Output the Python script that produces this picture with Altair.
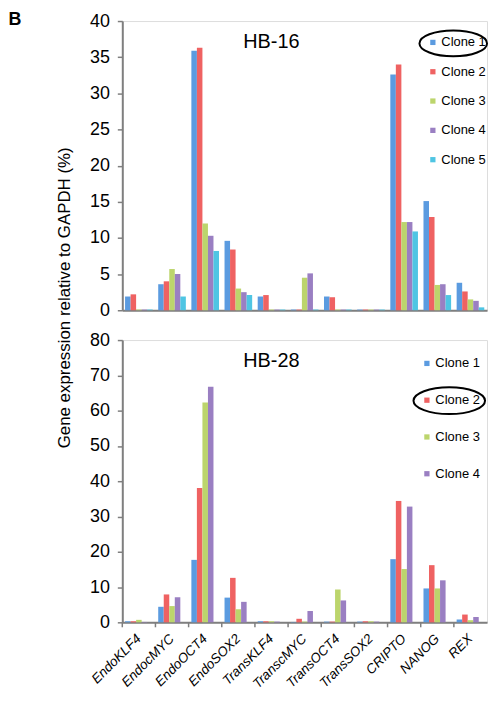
import altair as alt
import pandas as pd

genes = ["EndoKLF4", "EndocMYC", "EndoOCT4", "EndoSOX2", "TransKLF4", "TranscMYC",
         "TransOCT4", "TransSOX2", "CRIPTO", "NANOG", "REX"]
clones_hb16 = ["Clone 1", "Clone 2", "Clone 3", "Clone 4", "Clone 5"]
clones_hb28 = ["Clone 1", "Clone 2", "Clone 3", "Clone 4"]

hb16_c1 = [1.9, 3.6, 35.9, 9.6, 1.9, 0.1, 1.9, 0.1, 32.6, 15.1, 3.8]
hb16_c2 = [2.2, 4.0, 36.3, 8.4, 2.1, 0.1, 1.8, 0.1, 34.0, 12.9, 2.6]
hb16_c3 = [0.1, 5.7, 12.0, 3.0, 0.1, 4.5, 0.1, 0.1, 12.2, 3.5, 1.5]
hb16_c4 = [0.1, 5.0, 10.3, 2.5, 0.1, 5.1, 0.1, 0.1, 12.2, 3.6, 1.3]
hb16_c5 = [0.1, 1.9, 8.2, 2.1, 0.1, 0.1, 0.1, 0.1, 10.9, 2.1, 0.4]

hb28_c1 = [0.3, 4.4, 17.7, 7.0, 0.3, 0.1, 0.2, 0.2, 17.9, 9.6, 0.8]
hb28_c2 = [0.3, 7.9, 38.1, 12.6, 0.3, 1.0, 0.2, 0.3, 34.4, 16.2, 2.2]
hb28_c3 = [0.7, 4.6, 62.3, 3.7, 0.3, 0.2, 9.3, 0.3, 15.1, 9.6, 0.6]
hb28_c4 = [0.1, 7.1, 66.8, 5.8, 0.2, 3.2, 6.2, 0.2, 32.8, 11.9, 1.5]

panel_names = ["HB-16", "HB-28"]
panel_letter = ["B"]
y_title = "Gene expression relative to GAPDH (%)"
circled = ["Clone 1", "Clone 2"]
clone_colors = ["#5b9be0", "#ef6262", "#bcd56c", "#9a7fc2", "#4fc5e3"]

FONT = "Liberation Sans"
W = 367
AXIS_GRAY = "#7f7f7f"


def to_long(series, clones):
    rows = []
    for clone, vals in zip(clones, series):
        for g, v in zip(genes, vals):
            rows.append({"gene": g, "clone": clone, "value": v})
    return pd.DataFrame(rows)


def ellipse_path(k):
    c = 0.5523
    return (f"M -1 0 C -1 {-k*c:.4f} {-c} {-k} 0 {-k} C {c} {-k} 1 {-k*c:.4f} 1 0 "
            f"C 1 {k*c:.4f} {c} {k} 0 {k} C {-c} {k} -1 {k*c:.4f} -1 0 Z")


def panel(df, clones, ymax, ystep, height, name, leg_x, leg_y, row_pad,
          ell_x, ell_y, ell_w, ell_h, circ, bottom, top):
    x_scale = alt.Scale(domain=genes, paddingInner=0, paddingOuter=0)
    if bottom:
        x_axis = alt.Axis(title=None, ticks=False, labelAngle=315, labelAlign="right",
                          labelBaseline="middle", labelFontStyle="italic", labelFontSize=13.5,
                          labelFont=FONT, labelColor="black", labelPadding=14,
                          domainColor=AXIS_GRAY, domainWidth=2)
    else:
        x_axis = alt.Axis(title=None, ticks=False, labels=False,
                          domainColor=AXIS_GRAY, domainWidth=2)
    y_axis_kw = dict(values=list(range(0, ymax + 1, ystep)), grid=False, tickSize=5,
                     tickColor=AXIS_GRAY, tickWidth=1.5, domainColor=AXIS_GRAY,
                     domainWidth=2, labelFontSize=18, labelFont=FONT, labelColor="black",
                     labelPadding=8)
    if top:
        y_axis = alt.Axis(title=y_title, titleFont=FONT, titleFontSize=17,
                          titleFontWeight="normal", titleAngle=270, titleBaseline="middle",
                          titleAlign="center", titleX=-58, titleY=278, **y_axis_kw)
    else:
        y_axis = alt.Axis(title=None, **y_axis_kw)

    n = len(clones)
    bars = alt.Chart(df).mark_bar().encode(
        x=alt.X("gene:N", sort=genes, scale=x_scale, axis=x_axis),
        xOffset=alt.XOffset("clone:N", sort=clones,
                            scale=alt.Scale(domain=clones, paddingInner=0, paddingOuter=0.5)),
        y=alt.Y("value:Q", scale=alt.Scale(domain=[0, ymax], nice=False), axis=y_axis),
        color=alt.Color("clone:N", sort=clones,
                        scale=alt.Scale(domain=clones, range=clone_colors[:n]),
                        legend=alt.Legend(orient="none", legendX=leg_x, legendY=leg_y,
                                          title=None, symbolType="square", symbolSize=28,
                                          symbolStrokeWidth=0, labelFont=FONT,
                                          labelFontSize=13, labelColor="black",
                                          labelOffset=2, rowPadding=row_pad, padding=0)),
    )
    title_df = pd.DataFrame({"t": [name]})
    title = alt.Chart(title_df).mark_text(fontSize=20, font=FONT, baseline="middle",
                                          align="center", color="black").encode(
        text="t:N", x=alt.value(150), y=alt.value(21))
    ell_df = pd.DataFrame({"clone": [circ]})
    ell = alt.Chart(ell_df).mark_point(shape=ellipse_path(ell_h / ell_w), filled=False,
                                       stroke="black", strokeWidth=2, opacity=1,
                                       size=ell_w * ell_w).encode(
        x=alt.value(ell_x), y=alt.value(ell_y))
    layers = [bars, title, ell]
    if bottom:
        ticks = alt.Chart(pd.DataFrame({"gene": genes})).mark_rule(
            color=AXIS_GRAY, strokeWidth=1.5).encode(
            x=alt.X("gene:N", sort=genes, scale=x_scale, axis=x_axis, bandPosition=0),
            y=alt.value(height), y2=alt.value(height + 5))
        layers.append(ticks)
    if top:
        letter = alt.Chart(pd.DataFrame({"t": panel_letter})).mark_text(
            fontSize=18, font=FONT, fontWeight="bold", align="center", baseline="middle",
            color="black").encode(text="t:N", x=alt.value(-108), y=alt.value(-1))
        layers.append(letter)
    return alt.layer(*layers).properties(width=W, height=height)


top = panel(to_long([hb16_c1, hb16_c2, hb16_c3, hb16_c4, hb16_c5], clones_hb16),
            clones_hb16, 40, 5, 291, panel_names[0], 306, 15, 15.5,
            333, 22.5, 68, 26, circled[0], False, True)
bottom = panel(to_long([hb28_c1, hb28_c2, hb28_c3, hb28_c4], clones_hb28),
               clones_hb28, 80, 10, 284, panel_names[1], 300, 17, 23,
               329, 61, 72, 27, circled[1], True, False)

chart = alt.vconcat(top, bottom, spacing=30, bounds="flush", padding=0).resolve_scale(
    color="independent", x="shared"
).configure_view(stroke="#a6a6a6", strokeWidth=1.5).configure(background="white")

chart.save("out.html", embed_options={"renderer": "svg", "actions": False})
